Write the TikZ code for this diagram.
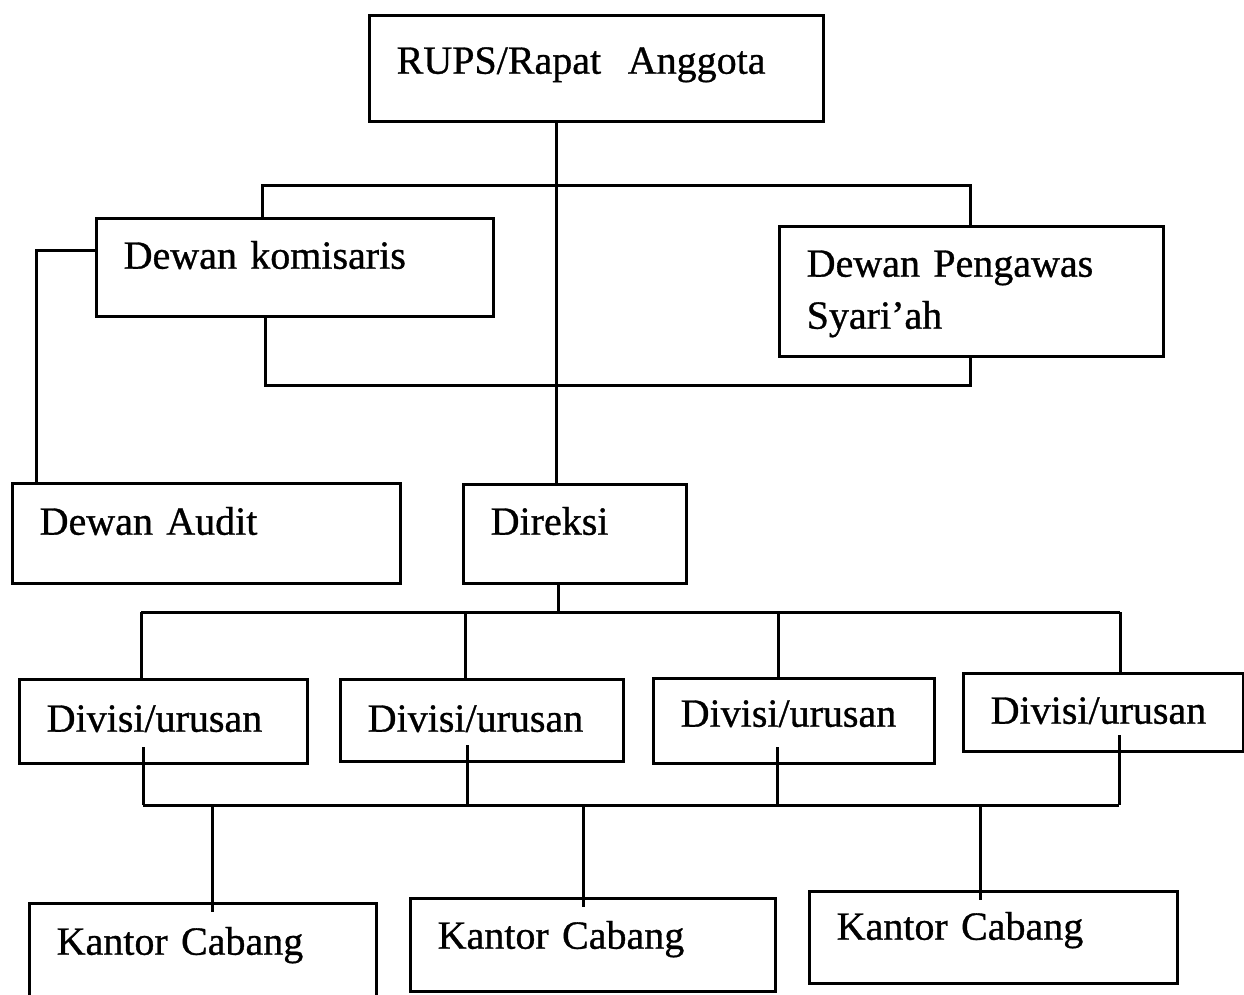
\documentclass[tikz,border=0pt]{standalone}
\usepackage{fontspec}
\setmainfont{Liberation Serif}[FakeBold=0.8,WordSpace=0.8]
\begin{document}
\begin{tikzpicture}[x=1pt,y=-1pt,line width=3pt,
  kotak/.style n args={3}{draw,line width=3.4pt,anchor=north west,
    inner xsep=27pt,inner ysep=0pt,align=left,
    text width=#1,text height=#2,text depth=#3,
    font=\fontsize{40}{52}\selectfont}]
  \useasboundingbox (0,0) rectangle (1244,994);
  % les cases
  \node[kotak={400pt}{58pt}{48pt}] (rups) at (368,14) {RUPS/Rapat~ Anggota};
  \node[kotak={343pt}{50pt}{48pt}] (kom) at (95,217) {Dewan komisaris};
  \node[kotak={330pt}{50pt}{80pt}] (dps) at (778,225) {Dewan Pengawas\\Syari'ah};
  \node[kotak={334pt}{51pt}{49pt}] (audit) at (11,482) {Dewan Audit};
  \node[kotak={169pt}{50pt}{49pt}] (direksi) at (462,483) {Direksi};
  \node[kotak={234pt}{52pt}{32pt}] (div1) at (18,678) {Divisi/urusan};
  \node[kotak={229pt}{52pt}{30pt}] (div2) at (339,678) {Divisi/urusan};
  \node[kotak={227pt}{48pt}{37pt}] (div3) at (652,677) {Divisi/urusan};
  \node[kotak={226pt}{50pt}{28pt}] (div4) at (962,672) {Divisi/urusan};
  \node[kotak={293pt}{51pt}{47pt}] (kc1) at (28,902) {Kantor Cabang};
  \node[kotak={311pt}{50pt}{43pt}] (kc2) at (409,897) {Kantor Cabang};
  \node[kotak={314pt}{48pt}{44pt}] (kc3) at (808,890) {Kantor Cabang};
  % ligne centrale
  \coordinate (m) at (556,0);
  \draw (rups.south -| m) -- (direksi.north -| m);
  % komisaris et pengawas
  \coordinate (k1) at (262,185); \coordinate (p1) at (970,185);
  \coordinate (k2) at (265,385); \coordinate (p2) at (970,385);
  \draw (kom.north -| k1) -- (k1) -- (p1) -- (dps.north -| p1);
  \draw (kom.south -| k2) -- (k2) -- (p2) -- (dps.south -| p2);
  \coordinate (a) at (36,250);
  \draw (kom.west |- a) -- (a) -- (audit.north -| a);
  % direksi vers les divisions
  \coordinate (d) at (558,612);
  \draw (direksi.south -| d) -- (d);
  \foreach \n/\x in {1/141,2/465,3/778,4/1120}{
    \coordinate (s\n) at (\x,612);
    \draw (div\n.north -| s\n) -- (s\n);
  }
  \draw (s1) -- (s4);
  % divisions vers les cabang
  \foreach \n/\x in {1/143,2/467,3/777,4/1119}{
    \coordinate (b\n) at (\x,805);
    \draw (b\n) -- (b\n |- div\n.south) -- ++(0,-18);
  }
  \draw (b1) -- (b4);
  \foreach \n/\x in {1/212,2/583,3/980}{
    \coordinate (c\n) at (\x,805);
    \draw (c\n) -- (c\n |- kc\n.north) -- ++(0,10);
  }
\end{tikzpicture}
\end{document}
